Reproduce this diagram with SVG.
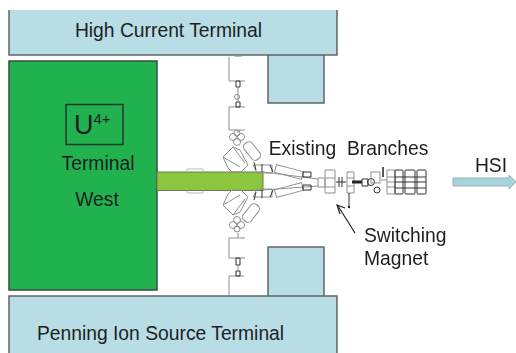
<svg xmlns="http://www.w3.org/2000/svg" width="516" height="353" viewBox="0 0 516 353">
<defs><filter id="soft" x="-5%" y="-5%" width="110%" height="110%"><feGaussianBlur stdDeviation="0.35"/></filter></defs>
<style>
text{font-family:"Liberation Sans",Arial,sans-serif;fill:#1c1f22;font-size:19.3px}
.f{fill:#b9dde5;stroke:none}
.s{fill:none;stroke:#5f6669;stroke-width:1.5}
.b{fill:none;stroke:#8f8f8f;stroke-width:1}
.d{fill:none;stroke:#333;stroke-width:1}
</style>
<rect width="516" height="353" fill="#fff"/>
<g id="high-current-terminal">
<path class="f" d="M9 10H337V55H324V103H268V55H9Z"/>
<path class="s" d="M9 10V55H337V10M268 55V103H324V55"/>
<text x="168.500" y="37" text-anchor="middle">High Current Terminal</text>
</g>
<g id="penning-terminal">
<path class="f" d="M268 247H324V296H337V353H9V296H268Z"/>
<path class="s" d="M9 353V296H337V353M268 296V247H324V296"/>
<text x="160.500" y="340" text-anchor="middle">Penning Ion Source Terminal</text>
</g>
<g id="terminal-west">
<rect x="9" y="61" width="148" height="229" fill="#22b14f" stroke="#3a4a40" stroke-width="1.5"/>
<rect x="66" y="104.500" width="57" height="40" fill="none" stroke="#1f3a28" stroke-width="1.500"/>
<text x="74" y="134" style="font-size:27px">U<tspan dy="-10" style="font-size:15px">4+</tspan></text>
<text x="98" y="170" text-anchor="middle">Terminal</text>
<text x="97" y="206" text-anchor="middle">West</text>
</g>
<g id="beam-pipe">
<rect x="157" y="172" width="106" height="18.500" fill="#8cc63f" stroke="#6b7a5a"/>
<path d="M187 172V169H203V172M187 190.500V193H203V190.500" fill="none" stroke="#bbb"/>
</g>
<g id="beamline" filter="url(#soft)">
<path class="b" d="M229 57V81H245M229 107V130H245M229 107H245M234 56H242M238 55V57M238 130V133"/>
<path class="b" d="M229 238V258H245M229 238H245M229 276V295M229 276H244M238 233V238"/>
<path class="d" stroke="#666" d="M236 81H240V87H236ZM236 102H240V107H236ZM236 258H240V265H236ZM236 271H240V276H236Z"/>
<path class="b" d="M238 87V102M238 265V271"/>
<circle cx="237" cy="97" r="2.500" class="b"/>
<g id="upper-cluster" class="b"><circle cx="233" cy="137" r="3.500"/><circle cx="241" cy="137" r="3.500"/><circle cx="237" cy="142" r="3.500"/><circle cx="237" cy="133" r="3"/></g>
<g class="b"><circle cx="233" cy="225" r="3.500"/><circle cx="241" cy="225" r="3.500"/><circle cx="237" cy="220" r="3.500"/><circle cx="237" cy="229" r="3"/></g>
<path class="b" d="M223 157L233 147 240 150 248 165 241 172H232L228 168ZM233 147L245 163M223 157L240 167"/>
<path class="b" d="M223 205L233 215 240 212 248 197 241 190H232L228 194ZM233 215L245 199M223 205L240 195"/>
<rect x="-5" y="-10" width="10" height="20" rx="4" transform="translate(252 151) rotate(-38)" class="b"/>
<rect x="-5" y="-10" width="10" height="20" rx="4" transform="translate(251 213) rotate(38)" class="b"/>
<path class="b" d="M253 165H272V173H257ZM253 197H272V189H257Z"/>
<path class="d" d="M254 162L256 170M254 200L256 192M262 164L262 172M262 198L262 190M270 165L273 172M270 197L273 190"/>
<rect x="-14" y="-4" width="28" height="8" transform="translate(289 172) rotate(15)" class="b"/>
<rect x="-14" y="-4" width="28" height="8" transform="translate(289 190) rotate(-15)" class="b"/>
<path class="b" d="M263 172L318 179M263 190L318 186"/>
<path class="d" d="M303 172H311V177H303ZM303 185H311V190H303Z"/>
<path class="b" d="M318 178H325V187H318ZM325 170H335V193H325ZM325 178H335M325 187H335"/>
<path class="d" d="M336 182H346M339 177V187M342 177V187"/>
<path class="b" d="M347 172H354V193H347ZM347 178H354M347 186H354"/>
<path class="d" d="M349 193V207"/>
<circle cx="349" cy="207" r="1.200" fill="#222"/>
<path d="M352 182H362" stroke="#222" stroke-width="3"/>
<path class="d" d="M362 179H368V186H362Z"/>
<circle cx="371" cy="182" r="3.500" class="d"/>
<circle cx="377" cy="190" r="3" class="d"/>
<rect x="371" y="172" width="9" height="11" class="b"/>
<path d="M383 167V177" stroke="#222" stroke-width="1.500"/>
<path class="b" d="M381 180H387M387 170V194H395V170ZM387 177H395M387 182H395M387 187H395"/>
<g class="d"><rect x="395" y="170" width="8" height="24" rx="1"/><rect x="405" y="170" width="10" height="24" rx="1"/><rect x="417" y="170" width="9" height="24" rx="1"/>
<path d="M395 177H426M395 182H426M395 188H426"/></g>
</g>
<g id="connectors">
<path d="M355 233L338 206" stroke="#222" stroke-width="1.200" fill="none"/>
<path d="M345 208L337 205 340 214" stroke="#222" stroke-width="1.200" fill="none"/>
</g>
<g id="hsi-arrow">
<path d="M453 178H509V175L516 182 509 189V186H453Z" fill="#a9d3da" stroke="#8fb5bb"/>
<text x="491" y="172" text-anchor="middle">HSI</text>
</g>
<text x="348.500" y="155" text-anchor="middle" xml:space="preserve">Existing  Branches</text>
<text x="364" y="242">Switching</text>
<text x="364" y="265">Magnet</text>
</svg>
